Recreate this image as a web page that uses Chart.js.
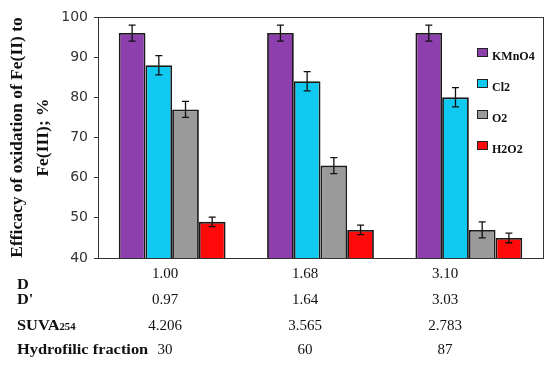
<!DOCTYPE html>
<html>
<head>
<meta charset="utf-8">
<script src="https://cdn.jsdelivr.net/npm/chart.js@4.4.0/dist/chart.umd.min.js"></script>
<style>
  html, body { margin: 0; padding: 0; background: #fff; }
  #wrap { width: 550px; height: 365px; }
</style>
</head>
<body>
<div id="wrap"><canvas id="chart"></canvas></div>
<script>
const groups = ['1.00', '1.68', '3.10'];
const oxidants = ['KMnO4', 'Cl2', 'O2', 'H2O2'];
const kmno4 = [96, 96, 96];
const cl2 = [88, 84, 80];
const o2 = [77, 63, 47];
const h2o2 = [49, 47, 45];
const kmno4Err = [2, 2, 2];
const cl2Err = [2.4, 2.4, 2.4];
const o2Err = [2, 2, 2];
const h2o2Err = [1.2, 1.2, 1.2];
const rowLabels = ['D', "D'", 'SUVA', 'Hydrofilic fraction'];
const dValues = ['1.00', '1.68', '3.10'];
const dPrimeValues = ['0.97', '1.64', '3.03'];
const suvaValues = ['4.206', '3.565', '2.783'];
const hydrofilicValues = ['30', '60', '87'];
const yTicks = [40, 50, 60, 70, 80, 90, 100];

const colors = ['#8e3fae', '#10c9f1', '#9a9a9a', '#ff0a0a'];
const values = [kmno4, cl2, o2, h2o2];
const errors = [kmno4Err, cl2Err, o2Err, h2o2Err];
const serif = '"Liberation Serif", "Times New Roman", serif';

// error bars drawn through the y scale
const errorBars = {
  id: 'errorBars',
  afterDatasetsDraw(chart) {
    const ctx = chart.ctx, y = chart.scales.y;
    ctx.save();
    ctx.strokeStyle = '#111';
    ctx.lineWidth = 1.3;
    chart.data.datasets.forEach((ds, i) => {
      chart.getDatasetMeta(i).data.forEach((bar, j) => {
        const v = ds.data[j], e = ds.errors[j];
        const t = y.getPixelForValue(v + e), b = y.getPixelForValue(v - e);
        ctx.beginPath();
        ctx.moveTo(bar.x, t); ctx.lineTo(bar.x, b);
        ctx.moveTo(bar.x - 3.5, t); ctx.lineTo(bar.x + 3.5, t);
        ctx.moveTo(bar.x - 3.5, b); ctx.lineTo(bar.x + 3.5, b);
        ctx.stroke();
      });
    });
    ctx.restore();
  }
};

// box round the plot + legend inside it
const frameAndLegend = {
  id: 'frameAndLegend',
  afterDraw(chart) {
    const ctx = chart.ctx, a = chart.chartArea;
    ctx.save();
    ctx.strokeStyle = '#333';
    ctx.lineWidth = 1;
    ctx.strokeRect(a.left + 0.5, a.top + 0.5, a.right - a.left, a.bottom - a.top);
    ctx.font = 'bold 12px ' + serif;
    ctx.textBaseline = 'middle';
    chart.data.datasets.forEach((ds, i) => {
      const x = a.right - 66, yy = a.top + 31 + i * 31;
      ctx.fillStyle = ds.backgroundColor;
      ctx.fillRect(x, yy, 10, 8);
      ctx.strokeStyle = '#222';
      ctx.strokeRect(x + 0.5, yy + 0.5, 10, 8);
      ctx.fillStyle = '#111';
      ctx.fillText(ds.label, x + 15, yy + 9);
    });
    ctx.restore();
  }
};

// data table under the plot
const table = {
  id: 'table',
  afterDraw(chart) {
    const ctx = chart.ctx, a = chart.chartArea;
    const cols = groups.map((g, i) => a.left + 67 + i * 140);
    const rows = [dValues, dPrimeValues, suvaValues, hydrofilicValues];
    const rowY = [a.bottom + 16, a.bottom + 42, a.bottom + 68, a.bottom + 92];
    const labelY = [a.bottom + 27, a.bottom + 42, a.bottom + 68, a.bottom + 92];
    ctx.save();
    ctx.fillStyle = '#111';
    ctx.textBaseline = 'middle';
    ctx.textAlign = 'left';
    rowLabels.forEach((lab, i) => {
      ctx.save();
      ctx.translate(17, labelY[i]);
      ctx.scale(1.13, 1);
      ctx.font = 'bold 14.5px ' + serif;
      ctx.fillText(lab, 0, 0);
      if (lab === 'SUVA') {
        const w = ctx.measureText(lab).width;
        ctx.font = 'bold 9.5px ' + serif;
        ctx.fillText('254', w, 2);
      }
      ctx.restore();
    });
    ctx.font = '15px ' + serif;
    ctx.textAlign = 'center';
    rows.forEach((r, i) => {
      r.forEach((t, j) => ctx.fillText(t, cols[j], rowY[i]));
    });
    ctx.restore();
  }
};

new Chart(document.getElementById('chart'), {
  type: 'bar',
  data: {
    labels: groups,
    datasets: oxidants.map((name, i) => ({
      label: name,
      data: values[i],
      errors: errors[i],
      backgroundColor: colors[i],
      borderColor: '#1a1a1a',
      borderWidth: 1.8
    }))
  },
  options: {
    responsive: true,
    maintainAspectRatio: false,
    animation: false,
    layout: { padding: { top: 17, right: 7, left: 0, bottom: 0 } },
    datasets: { bar: { barPercentage: 1, categoryPercentage: 0.72 } },
    plugins: {
      legend: { display: false },
      tooltip: { enabled: false }
    },
    scales: {
      x: {
        ticks: { display: false },
        grid: { display: false },
        border: { display: false },
        afterFit: s => { s.height = 107; }
      },
      y: {
        min: 40,
        max: 100,
        afterBuildTicks: s => { s.ticks = yTicks.map(v => ({ value: v })); },
        ticks: {
          color: '#333',
          font: { family: '"DejaVu Sans", sans-serif', size: 14 },
          padding: 6
        },
        grid: { drawOnChartArea: false, tickLength: 4, color: '#333' },
        border: { display: false },
        title: {
          display: true,
          text: ['Efficacy of oxidation of Fe(II) to', 'Fe(III); %'],
          color: '#111',
          font: { family: serif, size: 17.5, weight: 'bold', lineHeight: 1.45 },
          padding: { top: 5, bottom: 0 }
        },
        afterFit: s => { s.width = 98; }
      }
    }
  },
  plugins: [errorBars, frameAndLegend, table]
});
</script>
</body>
</html>
